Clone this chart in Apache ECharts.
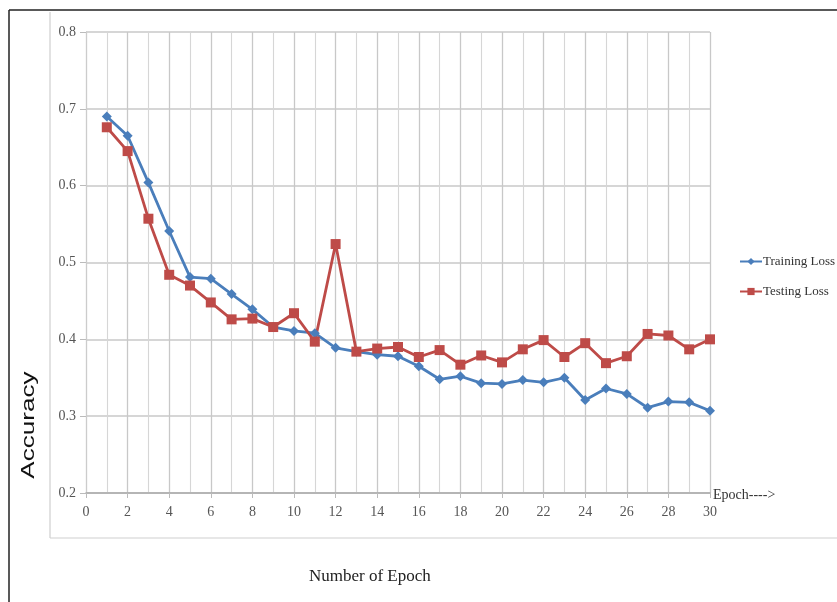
<!DOCTYPE html>
<html><head><meta charset="utf-8">
<script src="https://cdn.jsdelivr.net/npm/echarts@6/dist/echarts.min.js"></script>
<style>html,body{margin:0;padding:0;background:#fff}#c{width:837px;height:602px}</style>
</head><body><div id="c"></div>
<script>
const epochs = [1,2,3,4,5,6,7,8,9,10,11,12,13,14,15,16,17,18,19,20,21,22,23,24,25,26,27,28,29,30];
const trainingLoss = [0.690,0.665,0.604,0.541,0.481,0.479,0.459,0.439,0.416,0.411,0.408,0.389,0.384,0.380,0.378,0.365,0.348,0.352,0.343,0.342,0.347,0.344,0.350,0.321,0.336,0.329,0.311,0.319,0.318,0.307];
const testingLoss = [0.676,0.645,0.557,0.484,0.470,0.448,0.426,0.427,0.416,0.434,0.397,0.524,0.384,0.388,0.390,0.377,0.386,0.367,0.379,0.370,0.387,0.399,0.377,0.395,0.369,0.378,0.407,0.405,0.387,0.400];
const seriesNames = ['Training Loss','Testing Loss'];

const chart = echarts.init(document.getElementById('c'));
const serif = 'Liberation Serif';
chart.setOption({
  animation:false,
  backgroundColor:'#fff',
  grid:{left:86,right:127,top:32,bottom:109,containLabel:false},
  graphic:[
    {type:'line',shape:{x1:9,y1:10,x2:837,y2:10},style:{stroke:'#222',lineWidth:1.5}},
    {type:'line',shape:{x1:9,y1:10,x2:9,y2:602},style:{stroke:'#222',lineWidth:1.5}},
    {type:'line',shape:{x1:50,y1:12,x2:50,y2:538},style:{stroke:'#cfcfcf',lineWidth:1.2}},
    {type:'line',shape:{x1:50,y1:538,x2:837,y2:538},style:{stroke:'#cfcfcf',lineWidth:1.2}},
    {type:'text',left:713,top:488,style:{text:'Epoch---->',font:'14px "Liberation Serif"',fill:'#333'}},
    {type:'text',left:309,top:568,style:{text:'Number of Epoch',font:'17px "Liberation Serif"',fill:'#222'}},
    {type:'text',x:29,y:425,rotation:Math.PI/2,scaleX:1.45,scaleY:1,style:{text:'Accuracy',font:'18px "Liberation Sans"',fill:'#111',align:'center',verticalAlign:'middle'}}
  ],
  legend:{
    orient:'vertical',left:734,top:250,itemGap:17,itemWidth:22,itemHeight:9,
    textStyle:{fontFamily:serif,fontSize:13,color:'#333',padding:[0,0,0,-4]},
    data:seriesNames
  },
  xAxis:{
    type:'value',min:0,max:30,interval:2,
    axisLine:{show:true,lineStyle:{color:'#aaa',width:1.5}},
    axisTick:{show:true,length:5,lineStyle:{color:'#bbb'}},
    minorTick:{show:false,splitNumber:2},
    axisLabel:{fontFamily:serif,fontSize:14,color:'#555',margin:12},
    splitLine:{show:true,lineStyle:{color:'#c8c8c8',width:1.3}},
    minorSplitLine:{show:true,lineStyle:{color:'#d6d6d6',width:1.1}}
  },
  yAxis:{
    type:'value',min:0.2,max:0.8,interval:0.1,
    axisLine:{show:true,lineStyle:{color:'#ccc'}},
    axisTick:{show:true,length:6,lineStyle:{color:'#bbb'}},
    axisLabel:{fontFamily:serif,fontSize:14,color:'#555',margin:10,formatter:v=>String(+v.toFixed(1))},
    splitLine:{show:true,lineStyle:{color:'#c8c8c8',width:1.5}}
  },
  series:[
    {name:seriesNames[0],type:'line',data:epochs.map((e,i)=>[e,trainingLoss[i]]),
     symbol:'diamond',symbolSize:10,color:'#4a7ebb',
     lineStyle:{width:2.8,color:'#4a7ebb'},itemStyle:{color:'#4a7ebb'}},
    {name:seriesNames[1],type:'line',data:epochs.map((e,i)=>[e,testingLoss[i]]),
     symbol:'rect',symbolSize:10,color:'#be4b48',
     lineStyle:{width:2.8,color:'#be4b48'},itemStyle:{color:'#be4b48'}}
  ]
});
</script></body></html>
